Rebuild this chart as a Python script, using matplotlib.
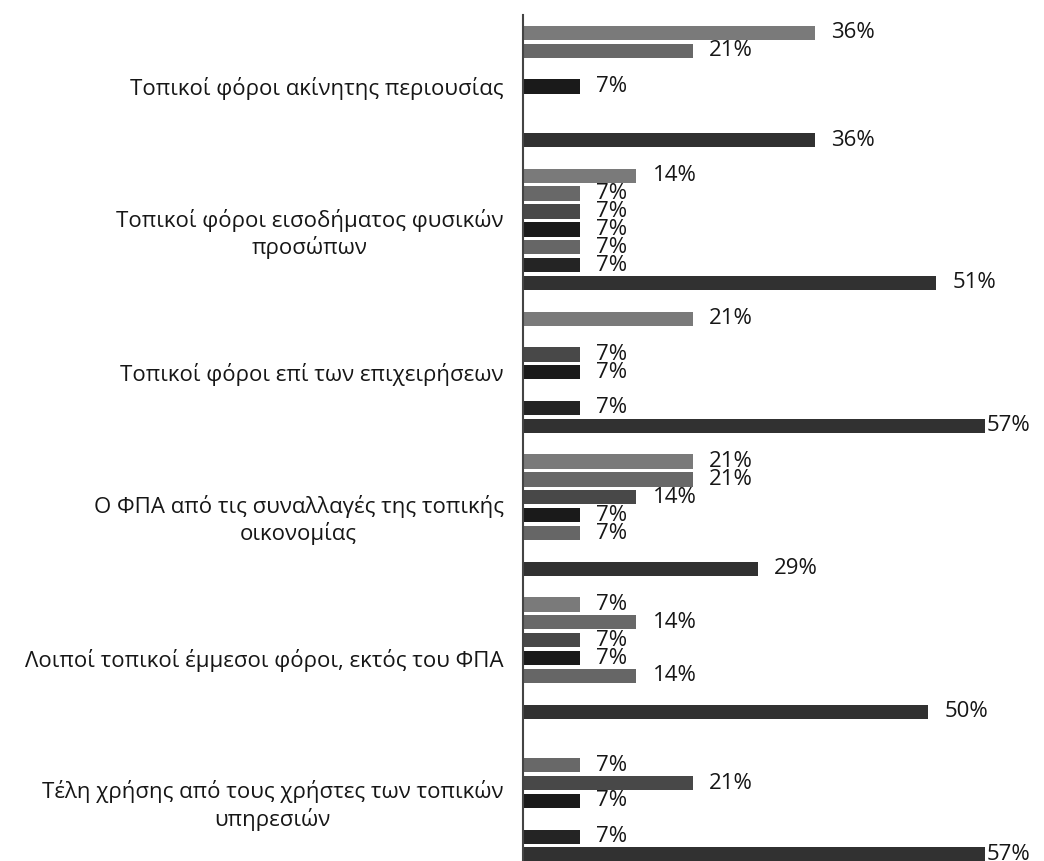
import matplotlib
matplotlib.use("Agg")
import matplotlib.pyplot as plt
import numpy as np

plt.rcParams['font.family'] = ['Open Sans', 'DejaVu Sans']

categories = [
    "Τοπικοί φόροι ακίνητης περιουσίας",
    "Τοπικοί φόροι εισοδήματος φυσικών\nπροσώπων",
    "Τοπικοί φόροι επί των επιχειρήσεων",
    "Ο ΦΠΑ από τις συναλλαγές της τοπικής\nοικονομίας",
    "Λοιποί τοπικοί έμμεσοι φόροι, εκτός του ΦΠΑ",
    "Τέλη χρήσης από τους χρήστες των τοπικών\nυπηρεσιών",
]

series_1 = [36, 14, 21, 21, 7, 0]
series_2 = [21, 7, 0, 21, 14, 7]
series_3 = [0, 7, 7, 14, 7, 21]
series_4 = [7, 7, 7, 7, 7, 7]
series_5 = [0, 7, 0, 7, 14, 0]
series_6 = [0, 7, 7, 0, 0, 7]
series_7 = [36, 51, 57, 29, 50, 57]

all_series = [series_1, series_2, series_3, series_4, series_5, series_6, series_7]
colors = ["#7a7a7a", "#686868", "#484848", "#1a1a1a", "#666666", "#242424", "#313131"]

fig = plt.figure(figsize=(10.44, 8.61), dpi=100)
ax = fig.add_axes([523 / 1044, 0.0, 1 - 523 / 1044, 1 - 15 / 861])

slot = 1.0 / 8
bar_h = 0.1
y_base = np.arange(len(categories))
text_color = "#161616"

for j, (vals, col) in enumerate(zip(all_series, colors)):
    ys = y_base + (j - 3) * slot
    ax.barh(ys, vals, height=bar_h, color=col, edgecolor="none")
    for y, v in zip(ys, vals):
        if v > 0:
            xl = min(v + 2.0, 57.2)
            ax.text(xl, y, f"{v}%", va="center", ha="left", fontsize=16,
                    color=text_color)

ax.set_xlim(0, 521 / 8.1)
ax.set_ylim(5.42, -0.5)
ax.set_yticks(y_base)
ax.set_yticklabels(categories, fontsize=16, color=text_color,
                   multialignment="center", linespacing=1.25)
ax.tick_params(axis="y", length=0, pad=14)
ax.set_xticks([])
for s in ["top", "right", "bottom"]:
    ax.spines[s].set_visible(False)
ax.spines["left"].set_color("#444444")
ax.spines["left"].set_linewidth(1.5)

fig.savefig("out.png", dpi=100, facecolor="white")
